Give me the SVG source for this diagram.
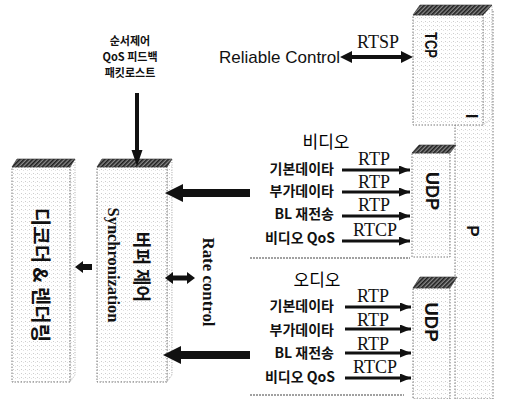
<svg xmlns="http://www.w3.org/2000/svg" width="518" height="399" viewBox="0 0 518 399">
<defs>
<pattern id="dots" width="4" height="4" patternUnits="userSpaceOnUse"><rect width="4" height="4" fill="#fff"/><rect x="1" y="1" width="1" height="1" fill="#cdcdcd"/><rect x="3" y="2" width="1" height="1" fill="#e2e2e2"/></pattern>
<pattern id="hatch" width="3" height="3" patternUnits="userSpaceOnUse" patternTransform="rotate(45)"><rect width="3" height="3" fill="#8a8a8a"/><rect width="1.6" height="3" fill="#1e1e1e"/></pattern>
<marker id="ah" markerUnits="userSpaceOnUse" markerWidth="11" markerHeight="9" viewBox="0 0 11 9" refX="11" refY="4.5" orient="auto"><path d="M0,0 L11,4.5 L0,9 z" fill="#111"/></marker>
</defs>
<style>
.box{fill:url(#dots);stroke:#777;stroke-width:1;stroke-dasharray:1.5 1.5}
.top{fill:url(#hatch);stroke:#333;stroke-width:0.6}
.side{fill:url(#dots);stroke:#999;stroke-width:0.8;stroke-dasharray:1 1.5}
.ko{font-family:'Noto Sans CJK KR',sans-serif;font-weight:bold;fill:#111}
.lbl{font-size:14px;text-anchor:end}
.grp{font-family:'Noto Sans CJK KR',sans-serif;font-size:17px;font-weight:normal;text-anchor:middle;fill:#000}
.proto{font-family:'Liberation Serif',serif;font-size:18px;text-anchor:middle;fill:#111}
.rot{text-anchor:middle;dominant-baseline:central}
.serifb{font-family:'Liberation Serif',serif;font-weight:bold;fill:#111}
.sansb{font-family:'Liberation Sans',Arial,sans-serif;font-weight:bold;fill:#111}
.thin{stroke:#111;stroke-width:3;marker-end:url(#ah)}
.big{fill:#111}
.sep{stroke:#444;stroke-width:1.2;stroke-dasharray:2 1}
</style>
<rect width="518" height="399" fill="#fff"/>

<g id="ip-box">
  <rect class="box" x="455" y="10" width="38" height="389"/>
</g>

<g id="tcp-box">
  <polygon class="side" points="483,15 492,5 492,118 483,125"/>
  <rect class="box" x="413" y="15" width="70" height="110"/>
  <polygon class="top" points="413,15 420,5 492,5 483,15"/>
  <text class="sansb rot" font-size="16" textLength="26" lengthAdjust="spacingAndGlyphs" transform="translate(430,45) rotate(90)">TCP</text>
</g>

<g id="udp-video-box">
  <rect class="box" x="412" y="153" width="38" height="104"/>
  <polygon class="top" points="412,153 419,145 456,145 450,153"/>
  <text class="sansb rot" font-size="18" textLength="38" lengthAdjust="spacingAndGlyphs" transform="translate(432,191) rotate(90)">UDP</text>
</g>

<g id="udp-audio-box">
  <rect class="box" x="413" y="288" width="37" height="111"/>
  <polygon class="top" points="413,288 420,277 457,277 450,288"/>
  <text class="sansb rot" font-size="18" textLength="39" lengthAdjust="spacingAndGlyphs" transform="translate(431,322) rotate(90)">UDP</text>
</g>

<g id="ip-label">
  <text class="sansb rot" font-size="17" transform="translate(471,116) rotate(90)">I</text>
  <text class="sansb rot" font-size="17" transform="translate(472,231) rotate(90)">P</text>
</g>

<g id="decoder-box">
  <polygon class="side" points="70,167 75,159 75,375 70,382"/>
  <rect class="box" x="12" y="167" width="58" height="215"/>
  <polygon class="top" points="12,167 17,159 75,159 70,167"/>
  <text class="ko rot" font-size="20" transform="translate(41,275) rotate(90)">디코더 &amp; 렌더링</text>
</g>

<g id="sync-box">
  <polygon class="side" points="167,167 172,159 172,375 167,382"/>
  <rect class="box" x="97" y="167" width="70" height="215"/>
  <polygon class="top" points="97,167 102,159 172,159 167,167"/>
  <text class="serifb rot" font-size="17" textLength="115" lengthAdjust="spacingAndGlyphs" transform="translate(113.5,265) rotate(90)">Synchronization</text>
  <text class="ko rot" font-size="18" transform="translate(142.5,267) rotate(90)">버퍼 제어</text>
</g>

<g id="feedback-label">
  <text class="ko" font-size="11" text-anchor="middle" x="130" y="45">순서제어</text>
  <text class="ko" font-size="11" text-anchor="middle" x="130" y="61">QoS 피드백</text>
  <text class="ko" font-size="11" text-anchor="middle" x="130" y="77">패킷로스트</text>
</g>

<g id="control-label">
  <text font-family="'Liberation Sans',Arial,sans-serif" font-size="17" fill="#111" text-anchor="end" x="340" y="63">Reliable Control</text>
  <text class="proto" x="357" y="48" style="text-anchor:start">RTSP</text>
</g>

<g id="rate-label">
  <text class="serifb rot" font-size="16" textLength="89" lengthAdjust="spacingAndGlyphs" transform="translate(208,282) rotate(90)">Rate control</text>
</g>

<g id="video-group">
  <text class="grp" x="326" y="148">비디오</text>
  <text class="ko lbl" x="334" y="174">기본데이타</text>
  <text class="ko lbl" x="334" y="196">부가데이타</text>
  <text class="ko lbl" x="334" y="219">BL 재전송</text>
  <text class="ko lbl" x="335" y="243">비디오 QoS</text>
  <text class="proto" x="374" y="165">RTP</text>
  <text class="proto" x="374" y="188">RTP</text>
  <text class="proto" x="374" y="211">RTP</text>
  <text class="proto" x="375" y="236">RTCP</text>
</g>

<g id="audio-group">
  <text class="grp" x="317" y="286">오디오</text>
  <text class="ko lbl" x="334" y="311">기본데이타</text>
  <text class="ko lbl" x="334" y="335">부가데이타</text>
  <text class="ko lbl" x="334" y="358">BL 재전송</text>
  <text class="ko lbl" x="335" y="382">비디오 QoS</text>
  <text class="proto" x="373" y="302">RTP</text>
  <text class="proto" x="373" y="326">RTP</text>
  <text class="proto" x="373" y="350">RTP</text>
  <text class="proto" x="375" y="373">RTCP</text>
</g>

<g id="connectors">
  <line class="sep" x1="250" y1="258" x2="410" y2="258"/>
  <line class="sep" x1="250" y1="395" x2="404" y2="395"/>
  <polygon class="big" points="135,93 139,93 139,150 142.5,150 137,166 131.5,150 135,150"/>
  <polygon class="big" points="340,57 352,51 352,55 401,55 401,51 413,57 401,63 401,59 352,59 352,63"/>
  <polygon class="big" points="165,193 183,184 183,189 250,189 250,197 183,197 183,202"/>
  <polygon class="big" points="163,355 181,346 181,351 250,351 250,359 181,359 181,364"/>
  <polygon class="big" points="75,267 83,261 83,264 92,264 92,270 83,270 83,273"/>
  <polygon class="big" points="165,278 173,272 173,275.5 187,275.5 187,272 195,278 187,284 187,280.5 173,280.5 173,284"/>
  <line class="thin" x1="342" y1="170" x2="410" y2="170"/>
  <line class="thin" x1="342" y1="192" x2="410" y2="192"/>
  <line class="thin" x1="342" y1="216" x2="410" y2="216"/>
  <line class="thin" x1="342" y1="241" x2="410" y2="241"/>
  <line class="thin" x1="345" y1="307" x2="411" y2="307"/>
  <line class="thin" x1="345" y1="329" x2="411" y2="329"/>
  <line class="thin" x1="345" y1="353" x2="411" y2="353"/>
  <line class="thin" x1="345" y1="378" x2="411" y2="378"/>
</g>
</svg>
